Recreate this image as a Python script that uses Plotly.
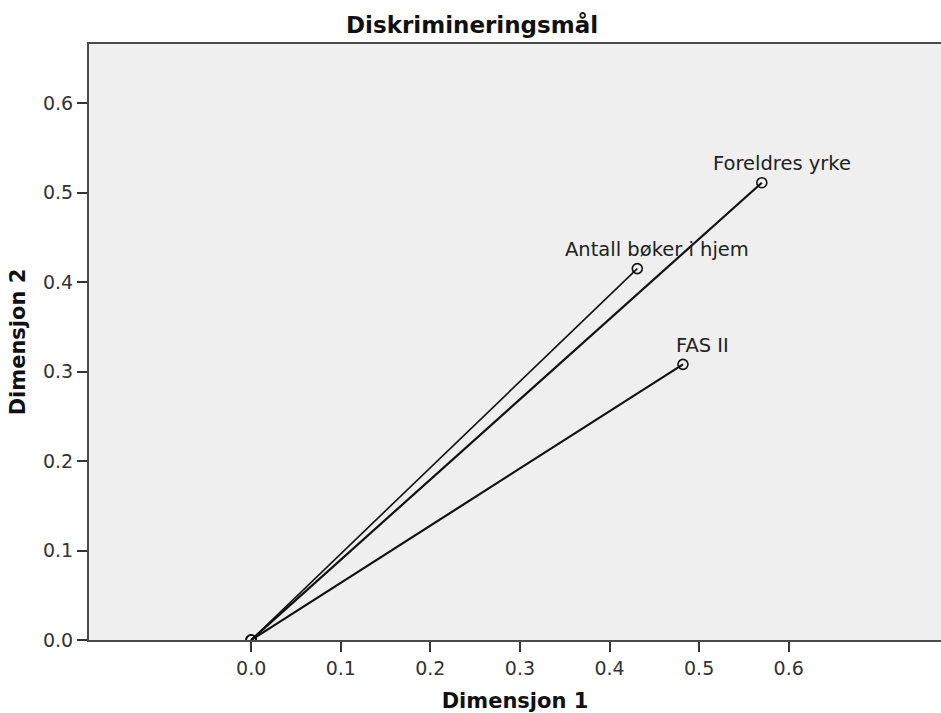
import plotly.graph_objects as go

# Discrimination measures per variable
variables = ["Foreldres yrke", "Antall bøker i hjem", "FAS II"]
dim1 = [0.570, 0.431, 0.482]
dim2 = [0.511, 0.415, 0.308]
line_widths = [2.2, 1.6, 2.2]

tick_vals = [0.0, 0.1, 0.2, 0.3, 0.4, 0.5, 0.6]
tick_text = ["0.0", "0.1", "0.2", "0.3", "0.4", "0.5", "0.6"]

FONT = "DejaVu Sans"

fig = go.Figure()

for name, x, y, w in zip(variables, dim1, dim2, line_widths):
    fig.add_trace(go.Scatter(
        x=[0.0, x], y=[0.0, y],
        mode="lines+markers",
        line=dict(color="#111111", width=w),
        marker=dict(symbol="circle-open", size=10, color="#111111",
                    line=dict(width=1.6, color="#111111")),
        showlegend=False,
        hoverinfo="skip",
    ))
    fig.add_annotation(
        x=x, y=y, text=name, showarrow=False,
        xshift=20, yshift=19,
        font=dict(family=FONT, size=19.5, color="#222222"),
    )

fig.add_annotation(
    x=0.4495, y=1.0, xref="paper", yref="paper",
    text="<b>Diskrimineringsmål</b>", showarrow=False,
    xanchor="center", yanchor="bottom", yshift=4,
    font=dict(family=FONT, size=23, color="#111111"),
)

axis_common = dict(
    showgrid=False, zeroline=False,
    showline=True, linecolor="#4a4a4a", linewidth=2,
    ticks="outside", ticklen=10, tickwidth=1.5, tickcolor="#333333",
    tickfont=dict(family=FONT, size=19, color="#333333"),
    tickvals=tick_vals, ticktext=tick_text,
)

fig.update_xaxes(
    **axis_common,
    range=[-0.181, 0.770],
    mirror=True,
    title=dict(text="<b>Dimensjon 1</b>", standoff=16,
               font=dict(family=FONT, size=21, color="#111111")),
)
fig.update_yaxes(
    **axis_common,
    range=[0.0, 0.666],
    title=dict(text="<b>Dimensjon 2</b>", standoff=12,
               font=dict(family=FONT, size=21, color="#111111")),
)

fig.update_layout(
    width=941, height=713,
    margin=dict(l=89, r=0, t=44, b=73),
    paper_bgcolor="white",
    plot_bgcolor="#efefef",
)

fig.write_html("out.html")
